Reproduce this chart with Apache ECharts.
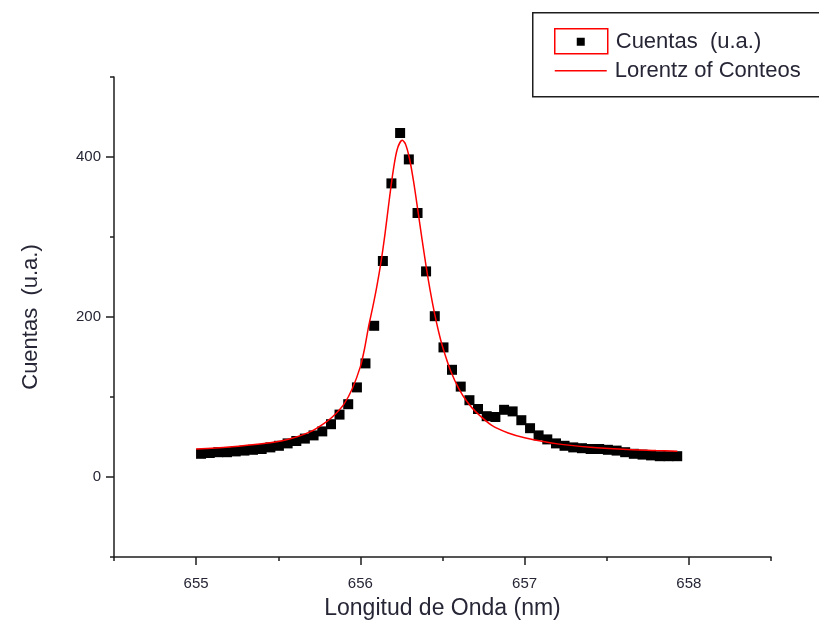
<!DOCTYPE html>
<html>
<head>
<meta charset="utf-8">
<title>Cuentas vs Longitud de Onda</title>
<script src="https://cdn.jsdelivr.net/npm/echarts@6/dist/echarts.min.js"></script>
<style>
  html, body { margin: 0; padding: 0; background: #fff; }
  #chart { width: 819px; height: 631px; }
</style>
</head>
<body>
<div id="chart"></div>
<script>
// Measured spectrum: wavelength (nm) and counts (a.u.)
const wavelength = [
  655.030, 655.083, 655.135, 655.188, 655.241, 655.294, 655.346, 655.399,
  655.452, 655.504, 655.557, 655.610, 655.662, 655.715, 655.768, 655.821,
  655.873, 655.926, 655.979, 656.031, 656.084, 656.137, 656.189, 656.242,
  656.295, 656.348, 656.400, 656.453, 656.506, 656.558, 656.611, 656.664,
  656.716, 656.769, 656.822, 656.875, 656.927, 656.980, 657.033, 657.085,
  657.138, 657.191, 657.243, 657.296, 657.349, 657.402, 657.454, 657.507,
  657.560, 657.612, 657.665, 657.718, 657.770, 657.823, 657.876, 657.929
];
const counts = [
  29, 30, 31, 31, 32, 33, 34, 35,
  37, 39, 42, 45, 48, 52, 57, 66,
  78, 91, 112, 142, 189, 270, 367, 430,
  397, 330, 257, 201, 162, 134, 113, 96,
  85, 76, 75, 84, 82, 71, 61, 52,
  47, 42, 39, 37, 36, 35, 35, 34,
  33, 31, 29, 28, 27, 26, 26, 26
];

// Lorentz fit curve, sampled
const fitX = [
  655.00, 655.20, 655.40, 655.55, 655.70, 655.80, 655.85, 655.90,
  655.95, 656.00, 656.025, 656.05, 656.075, 656.10, 656.125, 656.15,
  656.175, 656.20, 656.225, 656.255, 656.275, 656.30, 656.325, 656.35,
  656.375, 656.40, 656.425, 656.45, 656.475, 656.50, 656.55, 656.60,
  656.65, 656.70, 656.80, 656.90, 657.00, 657.20, 657.40, 657.60,
  657.80, 657.93
];
const fitY = [
  35.0, 37.5, 41.5, 46.5, 57.0, 70.0, 79.0, 91.0,
  110.0, 138.0, 160.0, 188.0, 212.0, 238.0, 268.0, 304.0,
  345.0, 383.0, 410.0, 420.8, 416.0, 397.2, 368.0, 333.3,
  297.7, 263.6, 232.9, 206.0, 182.8, 163.2, 132.5, 110.2,
  94.0, 82.0, 64.5, 55.0, 49.1, 41.4, 37.2, 34.7,
  33.2, 32.3
];

const seriesNames = ['Cuentas  (u.a.)', 'Lorentz of Conteos'];
const xTitle = 'Longitud de Onda (nm)';
const yTitle = 'Cuentas  (u.a.)';

const pair = (xs, ys) => xs.map((x, i) => [x, ys[i]]);

const ink = '#1e1e1e';
const textInk = '#262636';
const font = 'Liberation Sans, Arial, sans-serif';
const axisLineStyle = { color: ink, width: 1.5 };

const chart = echarts.init(document.getElementById('chart'), null, { renderer: 'canvas' });

chart.setOption({
  backgroundColor: '#fff',
  animation: false,
  grid: { left: 114, right: 48, top: 77, bottom: 74 },
  xAxis: [
    {
      // short ticks at half units, long (minor-tick) marks at whole units
      type: 'value', min: 654.5, max: 658.5, interval: 1,
      axisLine: { show: true, onZero: false, lineStyle: axisLineStyle },
      axisTick: { show: true, inside: false, length: 4, lineStyle: axisLineStyle },
      minorTick: { show: true, splitNumber: 2, length: 8, lineStyle: axisLineStyle },
      axisLabel: { show: false },
      splitLine: { show: false },
      minorSplitLine: { show: false }
    },
    {
      type: 'value', min: 654.5, max: 658.5, interval: 0.5, position: 'bottom',
      axisLine: { show: false },
      axisTick: { show: false },
      splitLine: { show: false },
      axisLabel: {
        margin: 19, color: textInk, fontFamily: font, fontSize: 15,
        formatter: v => (Math.abs(v - Math.round(v)) < 1e-6 ? String(Math.round(v)) : '')
      },
      name: xTitle, nameLocation: 'middle', nameGap: 40,
      nameTextStyle: { color: textInk, fontFamily: font, fontSize: 23 }
    }
  ],
  yAxis: [
    {
      type: 'value', min: -100, max: 500, interval: 200,
      axisLine: { show: true, onZero: false, lineStyle: axisLineStyle },
      axisTick: { show: true, inside: false, length: 4, lineStyle: axisLineStyle },
      minorTick: { show: true, splitNumber: 2, length: 8, lineStyle: axisLineStyle },
      axisLabel: { show: false },
      splitLine: { show: false },
      minorSplitLine: { show: false }
    },
    {
      type: 'value', min: -100, max: 500, interval: 100, position: 'left',
      axisLine: { show: false },
      axisTick: { show: false },
      splitLine: { show: false },
      axisLabel: {
        margin: 13, color: textInk, fontFamily: font, fontSize: 15,
        formatter: v => (v >= 0 && v % 200 === 0 ? String(v) : '')
      },
      name: yTitle, nameLocation: 'middle', nameGap: 72, nameRotate: 90,
      nameTextStyle: { color: textInk, fontFamily: font, fontSize: 22 }
    }
  ],
  series: [
    {
      name: seriesNames[0],
      type: 'scatter',
      xAxisIndex: 0, yAxisIndex: 0,
      symbol: 'rect', symbolSize: 10,
      itemStyle: { color: '#000', opacity: 1 },
      data: pair(wavelength, counts),
      z: 2
    },
    {
      name: seriesNames[1],
      type: 'line',
      xAxisIndex: 0, yAxisIndex: 0,
      showSymbol: false, smooth: 0.3,
      lineStyle: { color: '#ff0000', width: 1.5 },
      itemStyle: { color: '#ff0000' },
      data: pair(fitX, fitY),
      z: 3
    }
  ],
  graphic: [
    {
      type: 'group', left: 532, top: 12,
      children: [
        { type: 'rect', shape: { x: 0, y: 0, width: 300, height: 84 },
          style: { fill: '#fff', stroke: ink, lineWidth: 1.5 } },
        { type: 'rect', shape: { x: 22, y: 16, width: 53, height: 25 },
          style: { fill: 'none', stroke: '#ff0000', lineWidth: 1.5 } },
        { type: 'rect', shape: { x: 44, y: 25, width: 8, height: 8 },
          style: { fill: '#000' } },
        { type: 'text', x: 83, y: 29,
          style: { text: seriesNames[0], fill: textInk, font: '22px ' + font, verticalAlign: 'middle' } },
        { type: 'line', shape: { x1: 22, y1: 58, x2: 74, y2: 58 },
          style: { stroke: '#ff0000', lineWidth: 1.5 } },
        { type: 'text', x: 82, y: 58,
          style: { text: seriesNames[1], fill: textInk, font: '22px ' + font, verticalAlign: 'middle' } }
      ]
    }
  ]
});
</script>
</body>
</html>
